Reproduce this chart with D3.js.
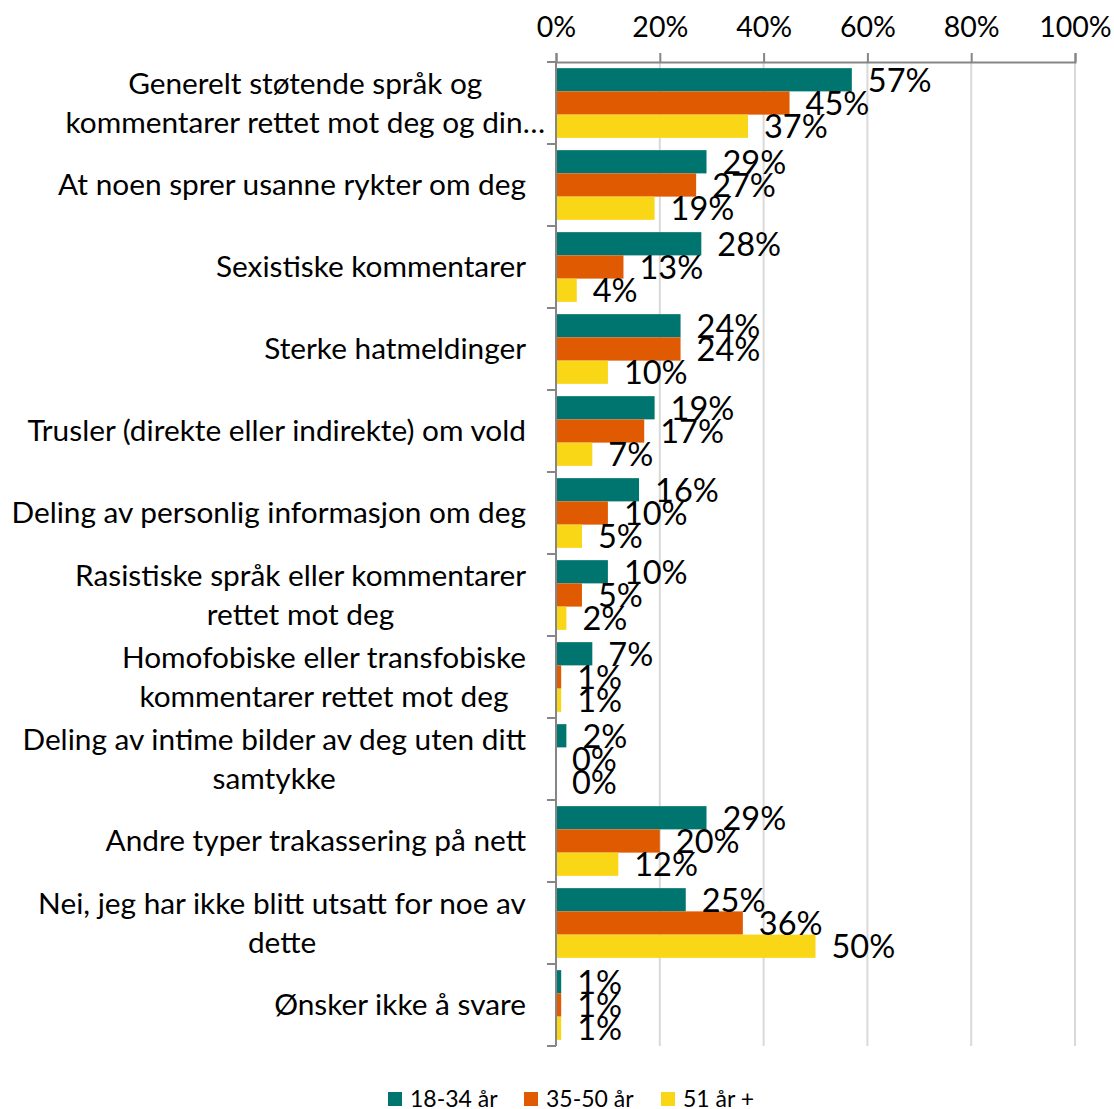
<!DOCTYPE html>
<html>
<head>
<meta charset="utf-8">
<script src="https://cdn.jsdelivr.net/npm/d3@7"></script>
<style>
  body { margin: 0; background: #fff; }
  text { font-family: Lato, "Open Sans", sans-serif; fill: #000; }
</style>
</head>
<body>
<script>
// chart data
var categories = [
  ["Generelt støtende språk og", "kommentarer rettet mot deg og din…"],
  ["At noen sprer usanne rykter om deg"],
  ["Sexistiske kommentarer"],
  ["Sterke hatmeldinger"],
  ["Trusler (direkte eller indirekte) om vold"],
  ["Deling av personlig informasjon om deg"],
  ["Rasistiske språk eller kommentarer", "rettet mot deg"],
  ["Homofobiske eller transfobiske", "kommentarer rettet mot deg"],
  ["Deling av intime bilder av deg uten ditt", "samtykke"],
  ["Andre typer trakassering på nett"],
  ["Nei, jeg har ikke blitt utsatt for noe av", "dette"],
  ["Ønsker ikke å svare"]
];
var seriesNames = ["18-34 år", "35-50 år", "51 år +"];
var young = [57, 29, 28, 24, 19, 16, 10, 7, 2, 29, 25, 1];
var middle = [45, 27, 13, 24, 17, 10, 5, 1, 0, 20, 36, 1];
var older = [37, 19, 4, 10, 7, 5, 2, 1, 0, 12, 50, 1];
var tickValues = [0, 20, 40, 60, 80, 100];
var colors = ["#007570", "#df5a00", "#f9d616"];

var W = 1114, H = 1109;
var plotLeft = 556, plotRight = 1075, plotTop = 62, plotBottom = 1046;
var labelRight = 526;

var svg = d3.select("body").append("svg")
  .attr("width", W).attr("height", H);

var x = d3.scaleLinear().domain([0, 100]).range([plotLeft, plotRight]);
var y = d3.scaleBand().domain(d3.range(categories.length)).range([plotTop, plotBottom]).paddingInner(0.15).paddingOuter(0.075);
var yInner = d3.scaleBand().domain([0, 1, 2]).range([0, y.bandwidth()]);

// gridlines
svg.append("g").selectAll("line").data(tickValues.slice(1)).join("line")
  .attr("x1", d => x(d)).attr("x2", d => x(d))
  .attr("y1", plotTop).attr("y2", plotBottom)
  .attr("stroke", "#d9d9d9").attr("stroke-width", 2);

// top axis
var xAxis = svg.append("g").attr("transform", "translate(0," + plotTop + ")")
  .call(d3.axisTop(x).tickValues(tickValues).tickFormat(d => d + "%").tickSize(9).tickPadding(16));
xAxis.select(".domain").attr("stroke", "#868686").attr("stroke-width", 2);
xAxis.selectAll(".tick line").attr("stroke", "#868686").attr("stroke-width", 2);
xAxis.selectAll("text").attr("font-size", 28.5).attr("font-family", "Lato, sans-serif").attr("fill", "#000");

// left axis line and tick marks between categories
var yBounds = d3.range(categories.length + 1).map(i => plotTop + i * (plotBottom - plotTop) / categories.length);
svg.append("line").attr("x1", plotLeft).attr("x2", plotLeft).attr("y1", plotTop).attr("y2", plotBottom)
  .attr("stroke", "#868686").attr("stroke-width", 2);
svg.append("g").selectAll("line").data(yBounds).join("line")
  .attr("x1", plotLeft - 9).attr("x2", plotLeft)
  .attr("y1", d => d).attr("y2", d => d)
  .attr("stroke", "#868686").attr("stroke-width", 2);

var series = [young, middle, older];
var rows = categories.map((c, i) => series.map((s, k) => ({ i: i, k: k, v: s[i] })));

var groups = svg.append("g").selectAll("g").data(rows).join("g")
  .attr("transform", (d, i) => "translate(0," + y(i) + ")");

groups.selectAll("rect").data(d => d).join("rect")
  .attr("x", x(0) + 1)
  .attr("y", d => yInner(d.k))
  .attr("width", d => Math.max(0, x(d.v) - x(0) - 1))
  .attr("height", yInner.bandwidth())
  .attr("fill", d => colors[d.k]);

groups.selectAll("text.val").data(d => d).join("text")
  .attr("class", "val")
  .attr("x", d => x(d.v) + 16)
  .attr("y", d => yInner(d.k) + yInner.bandwidth() / 2)
  .attr("dy", "0.37em")
  .attr("font-size", 32.5)
  .text(d => d.v + "%");

// category labels: lines centred inside a box that is right-aligned to the axis
var lineH = 39;
svg.append("g").selectAll("text").data(categories).join("text")
  .attr("text-anchor", "middle")
  .attr("font-size", 29.8)
  .each(function(lines, i) {
    var cy = y(i) + y.bandwidth() / 2;
    var t = d3.select(this);
    var spans = lines.map((ln, j) => t.append("tspan")
        .attr("y", cy + (j - (lines.length - 1) / 2) * lineH)
        .attr("dy", "0.35em")
        .text(ln));
    var maxW = d3.max(spans, s => s.node().getComputedTextLength());
    var cx = labelRight - maxW / 2;
    if (lines[lines.length - 1].endsWith("…")) cx += 19;
    spans.forEach(s => s.attr("x", cx));
  });

// legend
var legendX = [388, 524, 661];
var legend = svg.append("g").selectAll("g").data(seriesNames).join("g")
  .attr("transform", (d, i) => "translate(" + legendX[i] + ",1099)");
legend.append("rect").attr("x", 0).attr("y", -7).attr("width", 14).attr("height", 14)
  .attr("fill", (d, i) => colors[i]);
legend.append("text").attr("x", 22).attr("y", 0).attr("dy", "0.35em")
  .attr("font-size", 23).text(d => d);
</script>
</body>
</html>
